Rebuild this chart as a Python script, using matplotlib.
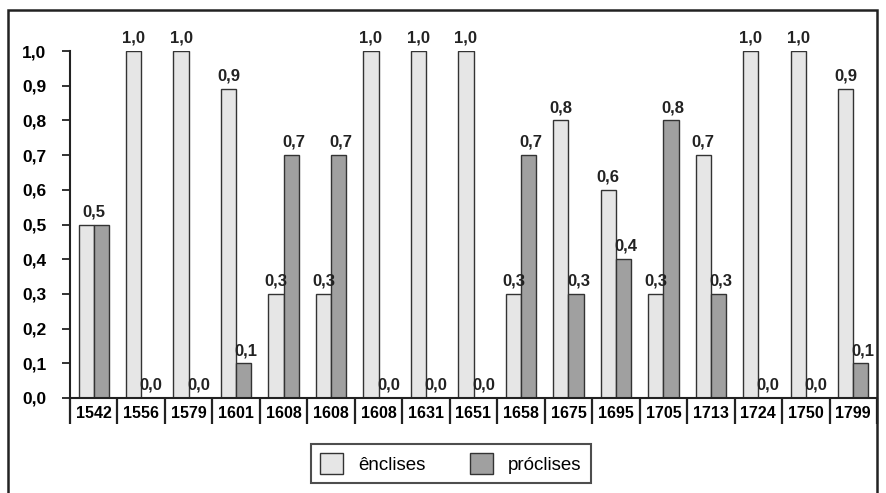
import numpy as np
import matplotlib
matplotlib.use("Agg")
import matplotlib.pyplot as plt
from matplotlib.patches import Rectangle

plt.rcParams['font.family'] = ['Liberation Sans', 'DejaVu Sans']

# data
years = ['1542', '1556', '1579', '1601', '1608', '1608', '1608', '1631', '1651',
         '1658', '1675', '1695', '1705', '1713', '1724', '1750', '1799']
enclises = [0.5, 1.0, 1.0, 0.89, 0.3, 0.3, 1.0, 1.0, 1.0,
            0.3, 0.8, 0.6, 0.3, 0.7, 1.0, 1.0, 0.89]
proclises = [0.5, 0.0, 0.0, 0.1, 0.7, 0.7, 0.0, 0.0, 0.0,
             0.7, 0.3, 0.4, 0.8, 0.3, 0.0, 0.0, 0.1]
enc_labels = ['0,5', '1,0', '1,0', '0,9', '0,3', '0,3', '1,0', '1,0', '1,0',
              '0,3', '0,8', '0,6', '0,3', '0,7', '1,0', '1,0', '0,9']
pro_labels = ['', '0,0', '0,0', '0,1', '0,7', '0,7', '0,0', '0,0', '0,0',
              '0,7', '0,3', '0,4', '0,8', '0,3', '0,0', '0,0', '0,1']
yticks = [0.0, 0.1, 0.2, 0.3, 0.4, 0.5, 0.6, 0.7, 0.8, 0.9, 1.0]

W, H = 886, 493
fig = plt.figure(figsize=(W / 100, H / 100), dpi=100)
ax = fig.add_axes([70 / W, 1 - 398 / H, (877 - 70) / W, (398 - 51) / H])

# outer frame
fig.patches.append(Rectangle((8 / W, -0.05), (877 - 8) / W, 1.05 - 10 / H,
                             transform=fig.transFigure, fill=False,
                             edgecolor='#222222', linewidth=1.8))

x = np.arange(len(years))
bw = 0.32
b1 = ax.bar(x - bw / 2, enclises, bw, color='#e6e6e6', edgecolor='#333333',
            linewidth=1.0, label='ênclises')
b2 = ax.bar(x + bw / 2, proclises, bw, color='#a0a0a0', edgecolor='#333333',
            linewidth=1.0, label='próclises')

for i in range(len(years)):
    # when both bars are equal only one label is shown, centred on the pair
    ex = x[i] if not pro_labels[i] else x[i] - bw / 2
    ax.text(ex, enclises[i] + 0.015, enc_labels[i], ha='center',
            va='bottom', fontsize=12, fontweight='bold', color='#222222')
    if pro_labels[i]:
        ax.text(x[i] + bw / 2 + 0.05, proclises[i] + 0.015, pro_labels[i],
                ha='center', va='bottom', fontsize=12, fontweight='bold',
                color='#222222')

ax.set_xlim(-0.5, len(years) - 0.5)
ax.set_ylim(0, 1.0)
ax.set_yticks(yticks)
ax.set_yticklabels([f'{v:.1f}'.replace('.', ',') for v in yticks],
                   fontsize=12.5, fontweight='bold')
ax.tick_params(axis='y', length=6, width=1.3, pad=11, color='#222222')

ax.set_xticks(x)
ax.set_xticklabels(years, fontsize=11.5, fontweight='bold')
ax.set_xticks(np.arange(len(years) + 1) - 0.5, minor=True)
ax.tick_params(axis='x', which='major', length=0, pad=6)
ax.tick_params(axis='x', which='minor', length=19, width=1.6, color='#222222')

for s in ['top', 'right']:
    ax.spines[s].set_visible(False)
ax.spines['left'].set_linewidth(1.5)
ax.spines['bottom'].set_linewidth(1.5)
ax.spines['left'].set_color('#222222')
ax.spines['bottom'].set_color('#222222')

leg = fig.legend(handles=[b1, b2], labels=['ênclises', 'próclises'],
                 loc='upper left', bbox_to_anchor=(311 / W, 1 - 444 / H),
                 borderaxespad=0, ncol=2, frameon=True, fancybox=False,
                 edgecolor='#222222', handlelength=1.2, handleheight=1.3,
                 columnspacing=2.4, borderpad=0.5, prop={'size': 13.5})
leg.get_frame().set_linewidth(1.5)

fig.savefig('out.png', dpi=100)
